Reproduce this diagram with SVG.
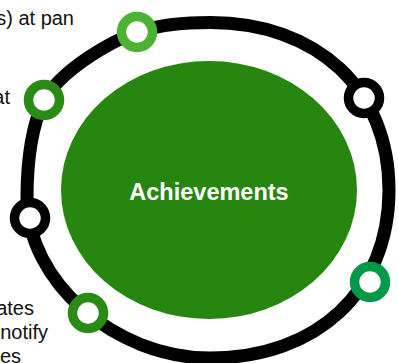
<svg xmlns="http://www.w3.org/2000/svg" width="398" height="363" viewBox="0 0 398 363">
<style>
.ring{fill:none;stroke:#000;stroke-width:13}
.mk{fill:#fff;stroke-width:9.5}
.lbl{font-family:"Liberation Sans",Arial,sans-serif;font-size:20px;fill:#111}
.title{font-family:"Liberation Sans",Arial,sans-serif;font-size:23.5px;font-weight:bold;fill:#fff}
</style>
<rect width="398" height="363" fill="#fff"/>
<g id="connectors">
<path class="ring" d="M210 22.5 C317.4 22.5 389 89.5 389 190 C389 290.8 317.4 358 210 358 C114.8 358 27 281.2 27 198 C27 165 30 130 44 100 C56 80 80 62 100 50 C125 35 150 22.5 210 22.5 Z"/>
</g>
<g id="achievements">
<ellipse cx="209" cy="190" rx="148" ry="129" fill="#26860F"/>
<text class="title" x="209" y="200" text-anchor="middle">Achievements</text>
</g>
<g id="marker-top"><circle class="mk" cx="137" cy="32" r="15.5" stroke="#4BB232"/></g>
<g id="marker-upper-left"><circle class="mk" cx="44" cy="100" r="15.5" stroke="#2A8A16"/></g>
<g id="marker-upper-right"><circle class="mk" cx="364" cy="98" r="15.5" stroke="#000"/></g>
<g id="marker-left"><circle class="mk" cx="30" cy="218" r="15.5" stroke="#000"/></g>
<g id="marker-lower-left"><circle class="mk" cx="88" cy="313" r="15.5" stroke="#2A8A16"/></g>
<g id="marker-lower-right"><circle class="mk" cx="370" cy="282" r="15.5" stroke="#00994A"/></g>
<g id="label-top"><text class="lbl" x="74" y="25" text-anchor="end">s) at pan</text></g>
<g id="label-upper-left"><text class="lbl" x="10" y="104" text-anchor="end">at</text></g>
<g id="label-lower-left">
<text class="lbl" x="34" y="315" text-anchor="end">ates</text>
<text class="lbl" x="48" y="339" text-anchor="end">notify</text>
<text class="lbl" x="21" y="363" text-anchor="end">es</text>
</g>
</svg>
